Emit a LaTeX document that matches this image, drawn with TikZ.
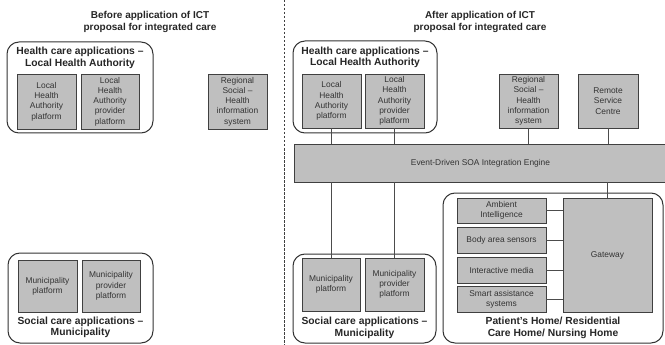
\documentclass[tikz,border=0pt]{standalone}
\usepackage{fontspec}
\setmainfont{Liberation Sans}
\begin{document}
\begin{tikzpicture}[x=1pt,y=-1pt,
  box/.style={draw=black!75,fill=black!25,line width=0.9pt,inner sep=0.5pt,align=center,
    font=\fontsize{8.4}{10.3}\selectfont,text=black!80},
  grp/.style={draw=black!80,line width=1pt,rounded corners=12pt},
  ttl/.style={font=\bfseries\fontsize{10}{12}\selectfont,align=center,text=black!85},
  gtl/.style={font=\bfseries\fontsize{10.3}{11.5}\selectfont,align=center,text=black!85},
  con/.style={draw=black!70,line width=0.8pt}]
\useasboundingbox (0,0) rectangle (665,345);
% helper macro: name, x1, y1, x2, y2, text
\newcommand{\bx}[6]{\node[box,minimum width={(#4)-(#2)},minimum height={(#5)-(#3)}] (#1) at ({((#2)+(#4))/2},{((#3)+(#5))/2}) {#6};}
% divider
\draw[black!75,dashed,line width=0.7pt,dash pattern=on 2.5pt off 1.5pt] (284.5,0) -- (284.5,345);
% titles
\node[ttl] (t1) at (150,22) {Before application of ICT\\proposal for integrated care};
\node[ttl] (t2) at (480,22) {After application of ICT\\proposal for integrated care};
% ---------- left ----------
\draw[grp] (7,42) rectangle (153,133);
\node[gtl] (g1) at (80,58) {Health care applications --\\Local Health Authority};
\bx{lha1}{17}{74}{76}{129}{Local\\Health\\Authority\\platform}
\bx{lhap1}{81}{74}{139}{129}{Local\\Health\\Authority\\provider\\platform}
\bx{reg1}{208}{74}{267}{129}{Regional\\Social --\\Health\\information\\system}
\draw[grp] (8,253) rectangle (153,343);
\bx{mun1}{18}{260}{77}{312}{Municipality\\platform}
\bx{munp1}{82}{260}{140}{312}{Municipality\\provider\\platform}
\node[gtl] (g2) at (80.5,327.5) {Social care applications --\\Municipality};
% ---------- right ----------
\draw[grp] (293,41) rectangle (437,133);
\node[gtl] (g3) at (365,57.5) {Health care applications --\\Local Health Authority};
\bx{lha2}{302}{74}{361}{128}{Local\\Health\\Authority\\platform}
\bx{lhap2}{365}{74}{424}{128}{Local\\Health\\Authority\\provider\\platform}
\bx{reg2}{499}{74}{558}{128}{Regional\\Social --\\Health\\information\\system}
\bx{rsc2}{578}{74}{638}{128}{Remote\\Service\\Centre}
\bx{soa}{294}{144}{667}{182}{Event-Driven SOA Integration Engine}
\draw[grp] (293,254) rectangle (436,343);
\bx{mun2}{302}{258}{360}{311}{Municipality\\platform}
\bx{munp2}{365}{258}{424}{311}{Municipality\\provider\\platform}
\node[gtl] (g4) at (364.5,328) {Social care applications --\\Municipality};
\draw[grp] (443,193) rectangle (663,343);
\bx{amb}{457}{198}{546}{223}{Ambient\\Intelligence}
\bx{body}{457}{227}{546}{253}{Body area sensors}
\bx{inter}{457}{257}{546}{283}{Interactive media}
\bx{smart}{457}{286}{546}{312}{Smart assistance\\systems}
\bx{gw}{563}{198}{652}{312}{Gateway}
\node[gtl] (g5) at (553,328) {Patient's Home/ Residential\\Care Home/ Nursing Home};
% connectors
\draw[con] (lha2.south) -- (lha2.south |- soa.north);
\draw[con] (lhap2.south) -- (lhap2.south |- soa.north);
\draw[con] (reg2.south) -- (reg2.south |- soa.north);
\draw[con] (rsc2.south) -- (rsc2.south |- soa.north);
\draw[con] (mun2.north |- soa.south) -- (mun2.north);
\draw[con] (munp2.north |- soa.south) -- (munp2.north);
\draw[con] (gw.north) -- (gw.north |- soa.south);
\draw[con] (amb.east) -- (amb.east -| gw.west);
\draw[con] (body.east) -- (body.east -| gw.west);
\draw[con] (inter.east) -- (inter.east -| gw.west);
\draw[con] (smart.east) -- (smart.east -| gw.west);
\end{tikzpicture}
\end{document}
